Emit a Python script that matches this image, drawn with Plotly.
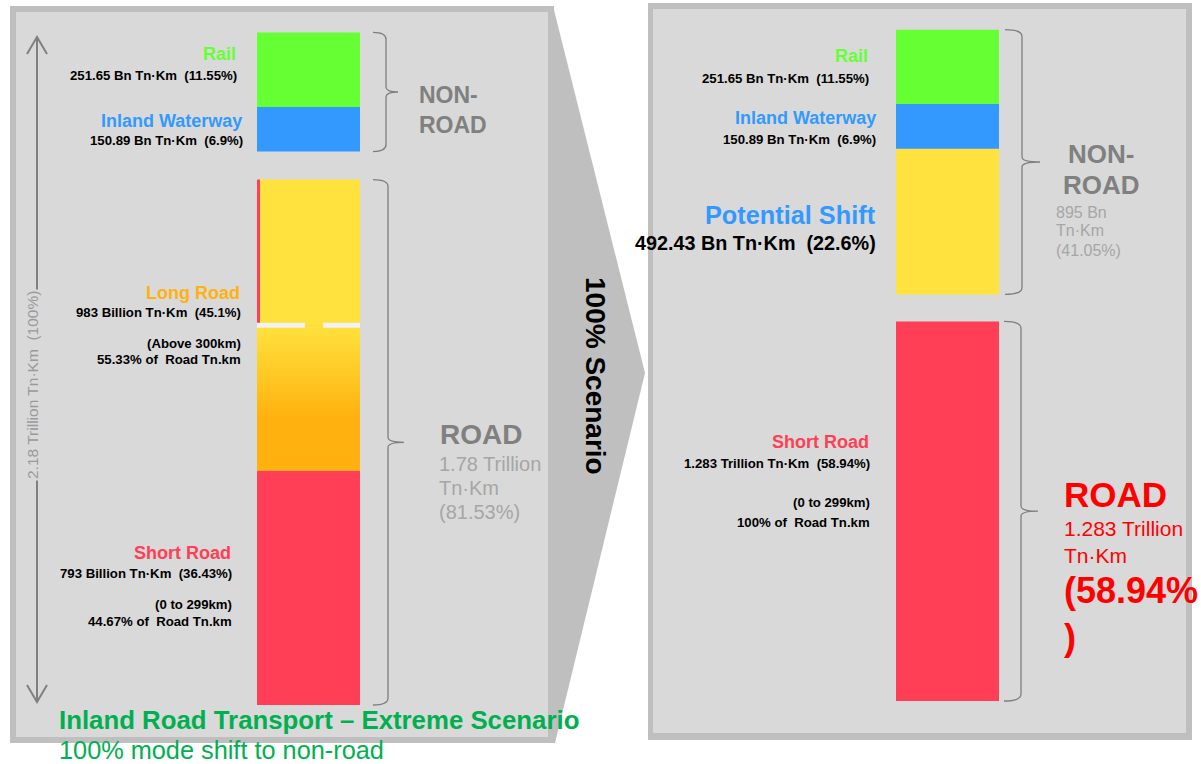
import plotly.graph_objects as go

# ---------------- data (billion tonne-km) ----------------
modes = ["Rail", "Inland Waterway", "Long Road", "Short Road"]
current_bn = [251.65, 150.89, 983.0, 793.0]
current_pct = [11.55, 6.9, 45.1, 36.43]
road_split_pct = [55.33, 44.67]          # long / short share of road tn-km
road_split_range = ["(Above 300km)", "(0 to 299km)"]

shiftable_bn = 492.43                     # long-road traffic moved off road
shiftable_pct = 22.6
scenario_short_road_bn = 1283.0
scenario_short_road_pct = 58.94
scenario_non_road_bn = 895
scenario_non_road_pct = 41.05
road_total_tn = 1.78
road_total_pct = 81.53
grand_total_tn = 2.18

title_text = "Inland Road Transport – Extreme Scenario"
subtitle_text = "100% mode shift to non-road"
scenario_text = "100% Scenario"

# ---------------- styling ----------------
W, H = 1201, 764
FONT = "Liberation Sans, Arial, sans-serif"
GREEN, BLUE, YELLOW, ORANGE, RED = "#66ff33", "#3399ff", "#ffe23d", "#ffb20f", "#ff3f55"
GREY_DARK, GREY_LIGHT = "#808080", "#a6a6a6"
PANEL, PANEL_EDGE = "#d9d9d9", "#bfbfbf"
TITLE_GREEN = "#00b050"

K = 3.38            # billion tn-km per pixel on both stacks
GAP_L, GAP_R = 28, 27   # gap (px) between road and non-road blocks
BASE_L, BASE_R = 705, 701   # pixel row of the stack baselines


def X(px):
    return px / W


def Y(py):
    return 1 - py / H


rail, waterway, long_road, short_road = current_bn
long_kept = long_road - shiftable_bn

# ---------------- stacks ----------------
fig = go.Figure()


def seg(value, base, color, axis):
    xa, ya = axis
    fig.add_trace(go.Bar(x=[0], y=[value], base=[base], width=1,
                         marker=dict(color=color, line=dict(width=0)),
                         xaxis=xa, yaxis=ya, hoverinfo="skip"))


L = ("x", "y")
R = ("x2", "y2")

# current split
gap_l = GAP_L * K
b_short = 0
b_kept = b_short + short_road
b_shift = b_kept + long_kept
b_water = b_shift + shiftable_bn + gap_l
b_rail = b_water + waterway
seg(short_road, b_short, RED, L)
seg(long_kept, b_kept, ORANGE, L)
seg(shiftable_bn, b_shift, YELLOW, L)
seg(waterway, b_water, BLUE, L)
seg(rail, b_rail, GREEN, L)

# yellow-to-orange fade on the long-road part that stays on road
fig.add_trace(go.Scatter(
    x=[-0.5, 0.5, 0.5, -0.5, -0.5],
    y=[b_kept, b_kept, b_shift, b_shift, b_kept],
    mode="lines", line=dict(width=0), fill="toself",
    fillgradient=dict(type="vertical",
                      colorscale=[[0, ORANGE], [0.365, ORANGE], [1, YELLOW]]),
    xaxis="x", yaxis="y", hoverinfo="skip"))

# 100% scenario split
gap_r = GAP_R * K
r_short = 0
r_shift = r_short + scenario_short_road_bn + gap_r
r_water = r_shift + shiftable_bn
r_rail = r_water + waterway
seg(scenario_short_road_bn, r_short, RED, R)
seg(shiftable_bn, r_shift, YELLOW, R)
seg(waterway, r_water, BLUE, R)
seg(rail, r_rail, GREEN, R)

# ---------------- shapes ----------------
shapes = []


def rect(x0, y0, x1, y1, color):
    shapes.append(dict(type="rect", xref="paper", yref="paper", layer="below",
                       x0=X(x0), x1=X(x1), y0=Y(y0), y1=Y(y1),
                       fillcolor=color, line=dict(width=0)))


# panels and the funnel between them
rect(10, 6, 554, 743, PANEL_EDGE)
rect(16, 12, 548, 737, PANEL)
rect(648, 3, 1192, 740, PANEL_EDGE)
rect(653, 9, 1186, 733, PANEL)
shapes.append(dict(type="path", xref="paper", yref="paper", layer="below",
                   path=f"M{X(553)},{Y(6)} L{X(645)},{Y(373)} L{X(555)},{Y(743)} L{X(548)},{Y(743)} L{X(548)},{Y(6)} Z",
                   fillcolor=PANEL_EDGE, line=dict(width=0)))

# total arrow on the left
ax, ay0, ay1 = 37, 37, 702
shapes.append(dict(type="line", xref="paper", yref="paper",
                   x0=X(ax), x1=X(ax), y0=Y(ay0), y1=Y(ay1),
                   line=dict(color=GREY_DARK, width=2)))
for tip, dy in ((ay0, 17), (ay1, -17)):
    shapes.append(dict(type="path", xref="paper", yref="paper",
                       path=f"M{X(ax - 10)},{Y(tip + dy)} L{X(ax)},{Y(tip)} L{X(ax + 10)},{Y(tip + dy)}",
                       line=dict(color=GREY_DARK, width=2)))

# red edge on the shiftable block and the dashed split line
bar_l0, bar_l1 = 257, 360
shapes.append(dict(type="line", xref="paper", yref="y",
                   x0=X(bar_l0 + 1.5), x1=X(bar_l0 + 1.5), y0=b_shift, y1=b_shift + shiftable_bn,
                   line=dict(color=RED, width=3)))
for xa, xb in ((bar_l0, 305), (323, bar_l1)):
    shapes.append(dict(type="line", xref="paper", yref="y",
                       x0=X(xa), x1=X(xb), y0=b_shift, y1=b_shift,
                       line=dict(color="#f2f2f2", width=5)))


def brace(x_end, x_stem, x_tip, top, bottom, yref):
    mid = (top + bottom) / 2
    r, rt = 7 * K, 5 * K
    e, s, t = X(x_end), X(x_stem), X(x_tip)
    p = (f"M{e},{top} Q{s},{top} {s},{top - r} "
         f"L{s},{mid + rt} Q{s},{mid} {t},{mid} "
         f"Q{s},{mid} {s},{mid - rt} "
         f"L{s},{bottom + r} Q{s},{bottom} {e},{bottom}")
    shapes.append(dict(type="path", path=p, xref="paper", yref=yref,
                       line=dict(color="#7f7f7f", width=1.3)))


brace(373, 386, 398, b_rail + rail, b_water, "y")
brace(373, 388, 404, b_shift + shiftable_bn, b_short, "y")
brace(1005, 1022, 1040, r_rail + rail, r_shift, "y2")
brace(1004, 1021, 1038, scenario_short_road_bn, r_short, "y2")

# ---------------- text ----------------
ann = []


def text(s, x, y, size, color, anchor="right", bold=False, **kw):
    ann.append(dict(text=f"<b>{s}</b>" if bold else s, x=X(x), y=Y(y),
                    xref="paper", yref="paper", xanchor=anchor, yanchor="middle",
                    showarrow=False, font=dict(family=FONT, size=size, color=color), **kw))


NB = "\u00a0"


def bn(v, pct):
    return f"{v:.2f} Bn Tn·Km{NB} ({pct}%)"


# left panel
text(modes[0], 238, 54, 18, GREEN, bold=True)
text(bn(rail, current_pct[0]), 239, 75, 13.2, "black", bold=True)
text(modes[1], 244, 121, 18, BLUE, bold=True)
text(bn(waterway, current_pct[1]), 245, 140, 13.2, "black", bold=True)
text("NON-", 417, 95, 23, GREY_DARK, anchor="left", bold=True)
text("ROAD", 417, 125, 23, GREY_DARK, anchor="left", bold=True)

text(modes[2], 242, 293, 18, ORANGE, bold=True)
text(f"{long_road:.0f} Billion Tn·Km{NB} ({current_pct[2]}%)", 243, 312, 13.2, "black", bold=True)
text(road_split_range[0], 243, 343, 13.2, "black", bold=True)
text(f"{road_split_pct[0]}% of{NB} Road Tn.km", 243, 359, 13.2, "black", bold=True)

text("ROAD", 438, 435, 28, GREY_DARK, anchor="left", bold=True)
text(f"{road_total_tn} Trillion", 437, 464, 20, GREY_LIGHT, anchor="left")
text("Tn·Km", 437, 488, 20, GREY_LIGHT, anchor="left")
text(f"({road_total_pct}%)", 437, 512, 20, GREY_LIGHT, anchor="left")

text(modes[3], 233, 553, 18, RED, bold=True)
text(f"{short_road:.0f} Billion Tn·Km{NB} ({current_pct[3]}%)", 234, 573, 13.2, "black", bold=True)
text(road_split_range[1], 234, 604, 13.2, "black", bold=True)
text(f"{road_split_pct[1]}% of{NB} Road Tn.km", 234, 621, 13.2, "black", bold=True)

text(f"{grand_total_tn} Trillion Tn·Km{NB} (100%)", 32, 385, 15.5, "#9a9a9a",
     anchor="center", textangle=-90, bgcolor=PANEL)

text(title_text, 57, 720, 25.8, TITLE_GREEN, anchor="left", bold=True)
text(subtitle_text, 57, 750, 25.3, TITLE_GREEN, anchor="left")

text(scenario_text, 596, 376, 28, "black", anchor="center", bold=True, textangle=90)

# right panel
text(modes[0], 870, 56, 18, GREEN, bold=True)
text(bn(rail, current_pct[0]), 871, 78, 13.2, "black", bold=True)
text(modes[1], 878, 118, 18, BLUE, bold=True)
text(bn(waterway, current_pct[1]), 878, 139, 13.2, "black", bold=True)
text("Potential Shift", 878, 215, 25.3, BLUE, bold=True)
text(bn(shiftable_bn, shiftable_pct), 878, 243, 19.8, "black", bold=True)

text("NON-", 1101, 154, 26, GREY_DARK, anchor="center", bold=True)
text("ROAD", 1101, 185, 26, GREY_DARK, anchor="center", bold=True)
text(f"{scenario_non_road_bn} Bn", 1054, 212, 16, GREY_LIGHT, anchor="left")
text("Tn·Km", 1054, 231, 16, GREY_LIGHT, anchor="left")
text(f"({scenario_non_road_pct}%)", 1054, 250, 16, GREY_LIGHT, anchor="left")

text(modes[3], 871, 442, 18, RED, bold=True)
text(f"{scenario_short_road_bn / 1000:.3f} Trillion Tn·Km{NB} ({scenario_short_road_pct}%)",
     872, 463, 13.2, "black", bold=True)
text(road_split_range[1], 872, 502, 13.2, "black", bold=True)
text(f"100% of{NB} Road Tn.km", 872, 522, 13.2, "black", bold=True)

text("ROAD", 1062, 494, 35, "#ff0000", anchor="left", bold=True)
text(f"{scenario_short_road_bn / 1000:.3f} Trillion", 1062, 528, 21, "#ff0000", anchor="left")
text("Tn·Km", 1062, 555, 21, "#ff0000", anchor="left")
text(f"({scenario_short_road_pct}%", 1062, 590, 36, "#ff0000", anchor="left", bold=True)
text(")", 1062, 637, 36, "#ff0000", anchor="left", bold=True)

# ---------------- layout ----------------
hidden = dict(visible=False, fixedrange=True)
fig.update_layout(
    width=W, height=H, margin=dict(l=0, r=0, t=0, b=0),
    paper_bgcolor="white", plot_bgcolor="rgba(0,0,0,0)",
    showlegend=False, hovermode=False, barmode="overlay",
    xaxis=dict(domain=[X(257), X(360)], range=[-0.5, 0.5], **hidden),
    yaxis=dict(domain=[0, 1], range=[(BASE_L - H) * K, BASE_L * K], **hidden),
    xaxis2=dict(domain=[X(896), X(999)], range=[-0.5, 0.5], anchor="y2", **hidden),
    yaxis2=dict(domain=[0, 1], range=[(BASE_R - H) * K, BASE_R * K], anchor="x2", **hidden),
    shapes=shapes, annotations=ann,
)

fig.write_html("out.html", config={"displayModeBar": False, "staticPlot": True})
